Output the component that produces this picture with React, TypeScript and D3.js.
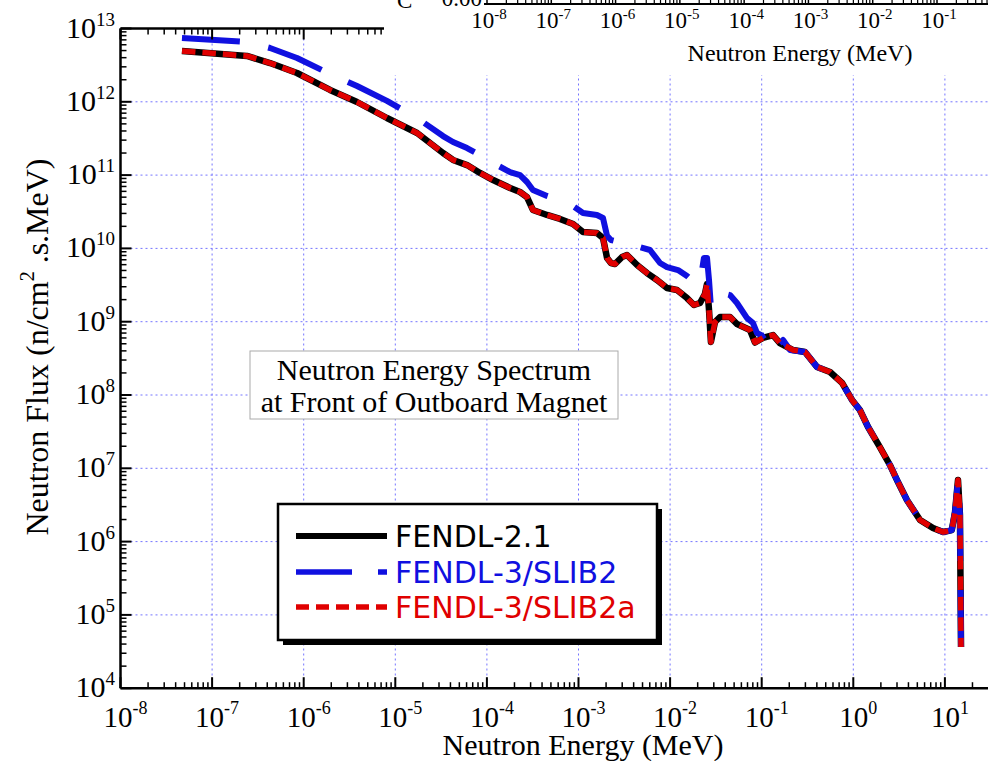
import React from 'react';
import * as d3 from 'd3';

// ---- Data (energy in MeV, flux in n/cm^2.s.MeV) ----
const energyFendl21 = [4.69e-8, 2.40e-7, 4.29e-7, 8.45e-7, 1.94e-6, 3.82e-6, 8.11e-6, 1.73e-5, 3.32e-5, 4.27e-5,
  6.07e-5, 8.41e-5, 1.17e-4, 1.79e-4, 2.30e-4, 2.74e-4, 3.18e-4, 4.53e-4, 6.28e-4, 8.71e-4,
  1.12e-3, 1.59e-3, 1.85e-3, 2.05e-3, 2.26e-3, 2.50e-3, 2.99e-3, 3.38e-3, 4.36e-3, 5.60e-3,
  7.19e-3, 9.25e-3, 1.19e-2, 1.53e-2, 1.82e-2, 2.12e-2, 2.40e-2, 2.53e-2, 2.66e-2, 2.79e-2,
  3.09e-2, 3.51e-2, 4.51e-2, 5.37e-2, 7.45e-2, 8.45e-2, 0.103, 0.133, 0.158, 0.220,
  0.297, 0.402, 0.557, 0.754, 0.968, 1.18, 1.45, 1.95, 2.51, 3.00,
  3.85, 5.35, 7.41, 9.53, 11.9, 12.9, 13.9, 14.6, 15.0];
const fluxFendl21 = [4.93e12, 4.22e12, 3.38e12, 2.47e12, 1.45e12, 9.94e11, 6.01e11, 3.75e11, 2.00e11, 1.61e11,
  1.37e11, 1.07e11, 8.57e10, 6.67e10, 5.88e10, 5.02e10, 3.34e10, 2.86e10, 2.52e10, 2.15e10,
  1.67e10, 1.62e10, 1.39e10, 7.40e9, 6.32e9, 6.12e9, 7.64e9, 8.13e9, 5.93e9, 4.61e9,
  3.71e9, 2.88e9, 2.71e9, 2.10e9, 1.69e9, 1.80e9, 2.39e9, 3.27e9, 1.44e9, 5.29e8,
  9.91e8, 1.16e9, 1.16e9, 9.29e8, 7.71e8, 5.2e8, 6.00e8, 6.58e8, 5.12e8, 4.11e8,
  3.86e8, 2.41e8, 2.06e8, 1.46e8, 8.55e7, 6.24e7, 3.66e7, 1.95e7, 1.11e7, 6.92e6,
  3.69e6, 1.97e6, 1.53e6, 1.35e6, 1.44e6, 2.53e6, 6.92e6, 2.31e6, 3.65e4];

const energySlib2 = [4.69e-8, 2.40e-7, 4.29e-7, 8.45e-7, 1.94e-6, 3.82e-6, 8.11e-6, 1.73e-5, 3.32e-5, 4.27e-5,
  6.07e-5, 8.41e-5, 1.17e-4, 1.79e-4, 2.30e-4, 2.74e-4, 3.18e-4, 4.53e-4, 6.28e-4, 8.71e-4,
  1.12e-3, 1.59e-3, 1.85e-3, 2.05e-3, 2.26e-3, 2.50e-3, 2.99e-3,
  3.84e-3, 4.69e-3, 6.03e-3, 7.76e-3, 9.25e-3, 1.22e-2, 1.53e-2, 1.82e-2, 2.12e-2,
  2.34e-2, 2.53e-2, 2.66e-2, 2.79e-2, 3.09e-2, 3.69e-2, 4.51e-2, 5.37e-2,
  6.92e-2, 8.04e-2, 8.89e-2, 0.103, 0.130, 0.147, 0.171, 0.204,
  0.297, 0.402, 0.557, 0.754, 0.968, 1.18, 1.45, 1.95, 2.51, 3.00,
  3.85, 5.35, 7.41, 9.53, 11.9, 12.9, 13.9, 14.6, 15.0];
const fluxSlib2 = [7.42e12, 6.55e12, 5.42e12, 3.96e12, 2.39e12, 1.64e12, 1.03e12, 6.01e11, 3.41e11, 2.83e11,
  2.34e11, 1.88e11, 1.46e11, 1.10e11, 1.00e11, 8.05e10, 6.26e10, 5.19e10, 4.57e10, 3.78e10,
  3.04e10, 2.86e10, 2.60e10, 1.48e10, 1.30e10, 1.26e10, 1.30e10,
  1.22e10, 1.04e10, 9.51e9, 6.32e9, 5.57e9, 5.07e9, 4.20e9, 3.48e9, 3.37e9,
  7.40e9, 7.40e9, 3.71e9, 1.58e9, 1.98e9, 2.46e9, 2.31e9, 1.80e9,
  1.12e9, 9.59e8, 7.01e8, 6.38e8, 7.71e8, 4.66e8, 5.62e8, 4.11e8,
  3.86e8, 2.41e8, 2.06e8, 1.46e8, 8.55e7, 6.24e7, 3.66e7, 1.95e7, 1.11e7, 6.92e6,
  3.69e6, 1.97e6, 1.53e6, 1.35e6, 1.44e6, 2.53e6, 6.92e6, 2.31e6, 3.65e4];

const energySlib2a = [4.69e-8, 2.40e-7, 4.29e-7, 8.45e-7, 1.94e-6, 3.82e-6, 8.11e-6, 1.73e-5, 3.32e-5, 4.27e-5,
  6.07e-5, 8.41e-5, 1.17e-4, 1.79e-4, 2.30e-4, 2.74e-4, 3.18e-4, 4.53e-4, 6.28e-4, 8.71e-4,
  1.12e-3, 1.59e-3, 1.85e-3, 2.05e-3, 2.26e-3, 2.50e-3, 2.99e-3, 3.38e-3, 4.36e-3, 5.60e-3,
  7.19e-3, 9.25e-3, 1.19e-2, 1.53e-2, 1.82e-2, 2.12e-2, 2.40e-2, 2.53e-2, 2.66e-2, 2.79e-2,
  3.09e-2, 3.51e-2, 4.51e-2, 5.37e-2, 7.45e-2, 8.45e-2, 0.103, 0.133, 0.158, 0.220,
  0.297, 0.402, 0.557, 0.754, 0.968, 1.18, 1.45, 1.95, 2.51, 3.00,
  3.85, 5.35, 7.41, 9.53, 11.9, 12.9, 13.9, 14.6, 15.0];
const fluxSlib2a = [4.95e12, 4.22e12, 3.38e12, 2.47e12, 1.45e12, 9.94e11, 6.01e11, 3.75e11, 2.00e11, 1.61e11,
  1.37e11, 1.07e11, 8.57e10, 6.67e10, 5.88e10, 5.02e10, 3.34e10, 2.86e10, 2.52e10, 2.15e10,
  1.67e10, 1.62e10, 1.39e10, 7.40e9, 6.32e9, 6.12e9, 7.64e9, 8.13e9, 5.93e9, 4.61e9,
  3.71e9, 2.88e9, 2.71e9, 2.10e9, 1.69e9, 1.80e9, 2.39e9, 3.27e9, 1.44e9, 5.29e8,
  9.91e8, 1.16e9, 1.16e9, 9.29e8, 7.71e8, 5.2e8, 6.00e8, 6.58e8, 5.12e8, 4.11e8,
  3.86e8, 2.41e8, 2.06e8, 1.46e8, 8.55e7, 6.24e7, 3.66e7, 1.95e7, 1.11e7, 6.92e6,
  3.69e6, 1.97e6, 1.53e6, 1.35e6, 1.44e6, 2.53e6, 6.92e6, 2.31e6, 3.65e4];

const xTickExponents = [-8, -7, -6, -5, -4, -3, -2, -1, 0, 1];
const yTickExponents = [4, 5, 6, 7, 8, 9, 10, 11, 12, 13];
const insetTickExponents = [-8, -7, -6, -5, -4, -3, -2, -1];
const legendLabels = ['FENDL-2.1', 'FENDL-3/SLIB2', 'FENDL-3/SLIB2a'];
const legendColors = ['#000000', '#1010e0', '#e00000'];
const annotationLines = ['Neutron Energy Spectrum', 'at Front of Outboard Magnet'];
const xTitle = 'Neutron Energy (MeV)';
const insetXTitle = 'Neutron Energy (MeV)';

const SERIF = '"Liberation Serif", "Times New Roman", Times, serif';
const SANS = '"DejaVu Sans", Verdana, sans-serif';

export default function App() {
  const W = 988, H = 761;
  const left = 120.5, top = 28.5, bottom = 688.2, right = 988;
  const x = d3.scaleLog().domain([1e-8, 1e1]).range([left, left + 9 * 91.6]);
  const y = d3.scaleLog().domain([1e4, 1e13]).range([bottom, top]);
  const ix = d3.scaleLog().domain([1e-8, 1e-1]).range([487, 937]);
  const insetAxisY = 4;

  const line = d3.line<[number, number]>().x(d => x(d[0])).y(d => y(d[1])).curve(d3.curveLinear);
  const zip = (a: number[], b: number[]) => a.map((v, i) => [v, b[i]] as [number, number]);

  const minorX: number[] = [];
  for (let e = -8; e <= 2; e++) for (let m = 2; m <= 9; m++) {
    const v = m * Math.pow(10, e);
    if (x(v) <= right) minorX.push(v);
  }
  const majorX = xTickExponents.map(e => Math.pow(10, e));
  const minorY: number[] = [];
  for (let e = 4; e < 13; e++) for (let m = 2; m <= 9; m++) minorY.push(m * Math.pow(10, e));
  const majorY = yTickExponents.map(e => Math.pow(10, e));
  const insetMinor: number[] = [];
  for (let e = -8; e <= 0; e++) for (let m = 2; m <= 9; m++) {
    const v = m * Math.pow(10, e);
    if (ix(v) <= right) insetMinor.push(v);
  }

  const gridColor = '#7474ff';
  const legendY = [536, 572, 607];

  return (
    <svg width={W} height={H} style={{ position: 'absolute', left: 0, top: 0, background: '#fff' }}>
      <rect x={0} y={0} width={W} height={H} fill="#fff" />
      {/* grid */}
      {xTickExponents.slice(1).map(e => (
        <line key={'gx' + e} x1={x(Math.pow(10, e))} x2={x(Math.pow(10, e))} y1={top} y2={bottom}
          stroke={gridColor} strokeWidth={1} strokeDasharray="2,3" />
      ))}
      {yTickExponents.slice(1, -1).map(e => (
        <line key={'gy' + e} x1={left} x2={right} y1={y(Math.pow(10, e))} y2={y(Math.pow(10, e))}
          stroke={gridColor} strokeWidth={1} strokeDasharray="2,3" />
      ))}

      {/* curves */}
      <path d={line(zip(energyFendl21, fluxFendl21)) || ''} fill="none" stroke="#000" strokeWidth={6.5}
        strokeLinejoin="round" />
      <path d={line(zip(energySlib2, fluxSlib2)) || ''} fill="none" stroke={legendColors[1]} strokeWidth={6}
        strokeDasharray="58,29" strokeLinejoin="round" />
      <path d={line(zip(energySlib2a, fluxSlib2a)) || ''} fill="none" stroke={legendColors[2]} strokeWidth={5.5}
        strokeDasharray="13.5,7" strokeLinejoin="round" />

      {/* axes */}
      <line x1={left} x2={right} y1={bottom} y2={bottom} stroke="#000" strokeWidth={2.5} />
      <line x1={left} x2={right} y1={top} y2={top} stroke="#000" strokeWidth={2.5} />
      <line x1={left} x2={left} y1={top} y2={bottom} stroke="#000" strokeWidth={2.5} />
      {majorX.map(v => (
        <g key={'mx' + v}>
          <line x1={x(v)} x2={x(v)} y1={bottom} y2={bottom - 11} stroke="#000" strokeWidth={2} />
          <line x1={x(v)} x2={x(v)} y1={top} y2={top + 11} stroke="#000" strokeWidth={2} />
        </g>
      ))}
      {minorX.map(v => (
        <g key={'nx' + v}>
          <line x1={x(v)} x2={x(v)} y1={bottom} y2={bottom - 6} stroke="#000" strokeWidth={1.5} />
          <line x1={x(v)} x2={x(v)} y1={top} y2={top + 6} stroke="#000" strokeWidth={1.5} />
        </g>
      ))}
      {majorY.map(v => (
        <line key={'my' + v} x1={left} x2={left + 11} y1={y(v)} y2={y(v)} stroke="#000" strokeWidth={2} />
      ))}
      {minorY.map(v => (
        <line key={'ny' + v} x1={left} x2={left + 6} y1={y(v)} y2={y(v)} stroke="#000" strokeWidth={1.5} />
      ))}

      {/* tick labels */}
      {yTickExponents.map(e => (
        <text key={'ly' + e} x={115} y={y(Math.pow(10, e)) + 9} textAnchor="end" fontFamily={SERIF} fontSize={30}>
          10<tspan dy={-12} fontSize={19}>{e}</tspan>
        </text>
      ))}
      {xTickExponents.map(e => (
        <text key={'lx' + e} x={x(Math.pow(10, e)) + 5} y={727} textAnchor="middle" fontFamily={SERIF} fontSize={29}>
          10<tspan dy={-13} fontSize={18}>{e}</tspan>
        </text>
      ))}
      <text x={583} y={755} textAnchor="middle" fontFamily={SERIF} fontSize={30}>{xTitle}</text>
      <text transform="translate(48,347) rotate(-90)" textAnchor="middle" fontFamily={SERIF} fontSize={32}>
        Neutron Flux (n/cm<tspan dy={-14} fontSize={20}>2</tspan><tspan dy={14}> .s.MeV)</tspan>
      </text>

      {/* annotation box */}
      <rect x={250} y={351} width={368} height={68} fill="#fff" stroke="#aaa" strokeWidth={1} />
      {annotationLines.map((t, i) => (
        <text key={'an' + i} x={434} y={380 + i * 31.5} textAnchor="middle" fontFamily={SERIF} fontSize={30}>{t}</text>
      ))}

      {/* legend */}
      <rect x={283} y={509} width={379} height={136} fill="#000" />
      <rect x={278} y={504} width={379} height={136} fill="#fff" stroke="#000" strokeWidth={2.5} />
      {legendLabels.map((t, i) => (
        <g key={'lg' + i}>
          <line x1={296} x2={387} y1={legendY[i]} y2={legendY[i]} stroke={legendColors[i]}
            strokeWidth={i === 0 ? 6 : 5.5}
            strokeDasharray={i === 0 ? undefined : i === 1 ? '56,26' : '13,7'} />
          <text x={395} y={legendY[i] + 11} fontFamily={SANS} fontSize={30} fill={legendColors[i]}>{t}</text>
        </g>
      ))}

      {/* inset (partially visible at top) */}
      <rect x={384} y={0} width={W - 384} height={75} fill="#fff" />
      <text x={397} y={8} fontFamily={SERIF} fontSize={23}>C</text>
      <text x={482} y={6} textAnchor="end" fontFamily={SERIF} fontSize={23}>0.00</text>
      <line x1={484} x2={right} y1={insetAxisY} y2={insetAxisY} stroke="#000" strokeWidth={2} />
      {insetTickExponents.concat([0]).map(e => (
        <line key={'imx' + e} x1={ix(Math.pow(10, e))} x2={ix(Math.pow(10, e))} y1={insetAxisY} y2={insetAxisY - 9}
          stroke="#000" strokeWidth={1.5} />
      ))}
      {insetMinor.map(v => (
        <line key={'inx' + v} x1={ix(v)} x2={ix(v)} y1={insetAxisY} y2={insetAxisY - 5} stroke="#000" strokeWidth={1.2} />
      ))}
      {insetTickExponents.map(e => (
        <text key={'ilx' + e} x={ix(Math.pow(10, e)) + 2} y={28} textAnchor="middle" fontFamily={SERIF} fontSize={23}>
          10<tspan dy={-9} fontSize={15}>{e}</tspan>
        </text>
      ))}
      <text x={800} y={61} textAnchor="middle" fontFamily={SERIF} fontSize={24}>{insetXTitle}</text>
    </svg>
  );
}
